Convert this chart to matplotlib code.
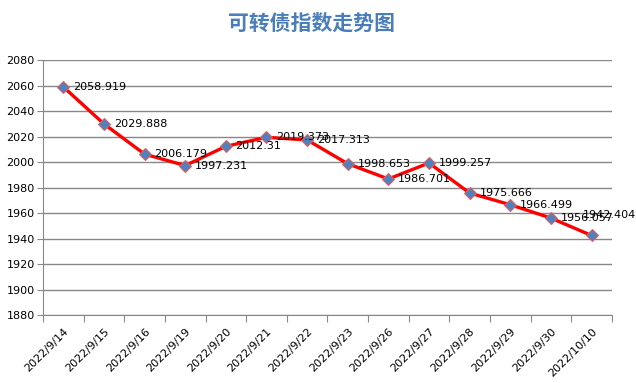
import matplotlib.pyplot as plt

plt.rcParams['font.family'] = ['Noto Sans CJK SC', 'DejaVu Sans']

dates = ['2022/9/14', '2022/9/15', '2022/9/16', '2022/9/19', '2022/9/20',
         '2022/9/21', '2022/9/22', '2022/9/23', '2022/9/26', '2022/9/27',
         '2022/9/28', '2022/9/29', '2022/9/30', '2022/10/10']
values = [2058.919, 2029.888, 2006.179, 1997.231, 2012.31,
          2019.373, 2017.313, 1998.653, 1986.701, 1999.257,
          1975.666, 1966.499, 1956.057, 1942.404]
yticks = list(range(1880, 2081, 20))

fig = plt.figure(figsize=(6.36, 3.83), dpi=100)
ax = fig.add_axes([0.0676, 0.1775, 0.8944, 0.6658])

x = list(range(len(dates)))
ax.plot(x, values, color='#ff0000', linewidth=2.4, marker='D', markersize=6,
        markerfacecolor='#4f81bd', markeredgecolor='#e06060', markeredgewidth=0.8, zorder=3)

for i, (xi, v) in enumerate(zip(x, values)):
    off = (7, 0)
    if i == len(values) - 1:
        off = (-6, 15)
    ax.annotate(str(v), (xi, v), xytext=off, textcoords='offset points',
                ha='left', va='center', fontsize=8, family='DejaVu Sans', zorder=4,
                annotation_clip=False)

ax.set_xlim(-0.5, len(dates) - 0.5)
ax.set_ylim(1880, 2080)
ax.set_yticks(yticks)
ax.set_yticklabels([str(t) for t in yticks], fontsize=8, family='DejaVu Sans')
ax.yaxis.grid(True, color='#888888', linewidth=1)
ax.set_axisbelow(True)

ax.set_xticks([i - 0.5 for i in range(len(dates) + 1)])
ax.set_xticklabels([])
ax.set_xticks(x, minor=True)
ax.set_xticklabels(dates, minor=True, rotation=45, ha='right', rotation_mode='anchor',
                   fontsize=8, family='DejaVu Sans')
ax.tick_params(axis='x', which='minor', length=0, pad=8)
ax.tick_params(axis='x', which='major', length=5, color='#888888')
ax.tick_params(axis='y', length=4, color='#888888', pad=2)

for s in ['top', 'right']:
    ax.spines[s].set_visible(False)
for s in ['left', 'bottom']:
    ax.spines[s].set_color('#888888')

fig.text(0.49, 0.94, '可转债指数走势图', ha='center', va='center', fontsize=15,
         color='#4a7ebb', fontweight='bold')

fig.savefig('out.png', dpi=100)
